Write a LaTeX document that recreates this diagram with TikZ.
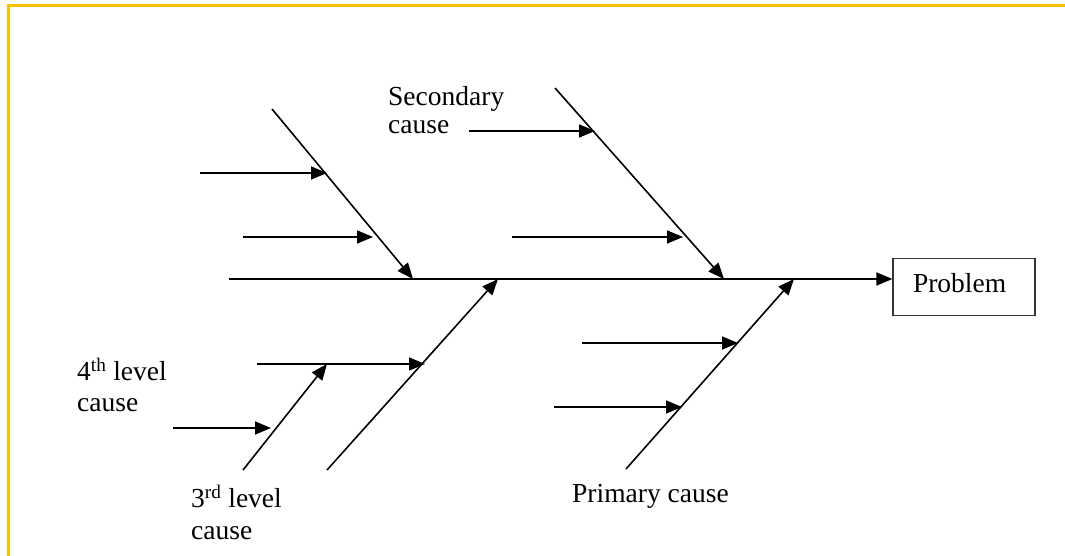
\documentclass[tikz,border=0pt]{standalone}
\usepackage{fontspec}
\setmainfont{Liberation Serif}
\usetikzlibrary{arrows.meta}
\definecolor{frameyellow}{RGB}{255,192,0}
\begin{document}
\begin{tikzpicture}[x=1pt,y=-1pt,
  bone/.style={line width=1.6pt, black},
  arr/.style={bone, -{Triangle[length=16pt,width=13pt]}},
  lbl/.style={inner sep=0pt, align=left, anchor=north west, font=\fontsize{27.5}{28}\selectfont},
  probbox/.style={draw=black!80, line width=1.2pt, minimum width=142pt, minimum height=57pt,
    inner xsep=20pt, text width=102pt, align=left, text height=18.8pt, text depth=8.8pt,
    font=\fontsize{27.5}{28}\selectfont}]
\useasboundingbox (0,0) rectangle (1065,556);
% page frame
\draw[frameyellow, line width=2.5pt] (8.3,556) -- (8.3,5.3) -- (1065,5.3);

% effect box and spine
\node[probbox] (problem) at (964,287) {Problem};
\coordinate (spineL) at (229,279);
\draw[arr] (spineL) -- (spineL -| problem.west);

% primary bones
\coordinate (b1top) at (272,109);  \coordinate (b1end) at (413,279);
\coordinate (b2top) at (555,88);   \coordinate (b2end) at (724,279);
\coordinate (b3bot) at (327,470);  \coordinate (b3end) at (498,279);
\coordinate (b4bot) at (626,469);  \coordinate (b4end) at (794,279);
\draw[arr] (b1top) -- (b1end);
\draw[arr] (b2top) -- (b2end);
\draw[arr] (b3bot) -- (b3end);
\draw[arr] (b4bot) -- (b4end);

% third level bone
\coordinate (b5bot) at (243,470);  \coordinate (b5end) at (327,364);
\draw[arr] (b5bot) -- (b5end);

% secondary causes
\coordinate (a1s) at (200,173); \coordinate (a1e) at (327,173);
\coordinate (a2s) at (243,237); \coordinate (a2e) at (373,237);
\coordinate (a3s) at (469,131); \coordinate (a3e) at (595,131);
\coordinate (a4s) at (512,237); \coordinate (a4e) at (683,237);
\coordinate (a5s) at (257,364); \coordinate (a5e) at (425,364);
\coordinate (a6s) at (173,428); \coordinate (a6e) at (271,428);
\coordinate (a7s) at (582,343); \coordinate (a7e) at (738,343);
\coordinate (a8s) at (554,407); \coordinate (a8e) at (682,407);
\foreach \i in {1,...,8} \draw[arr] (a\i s) -- (a\i e);

% labels
\node[lbl] (lsec) at (388,86.2) {Secondary\\cause};
\node[lbl, font=\fontsize{27.5}{31}\selectfont] (lfourth) at (77,358) {4\textsuperscript{th} level\\cause};
\node[lbl, font=\fontsize{27.5}{32}\selectfont] (lthird) at (191,485) {3\textsuperscript{rd} level\\cause};
\node[lbl, anchor=base west] (lprim) at (572,502) {Primary cause};
\end{tikzpicture}
\end{document}
